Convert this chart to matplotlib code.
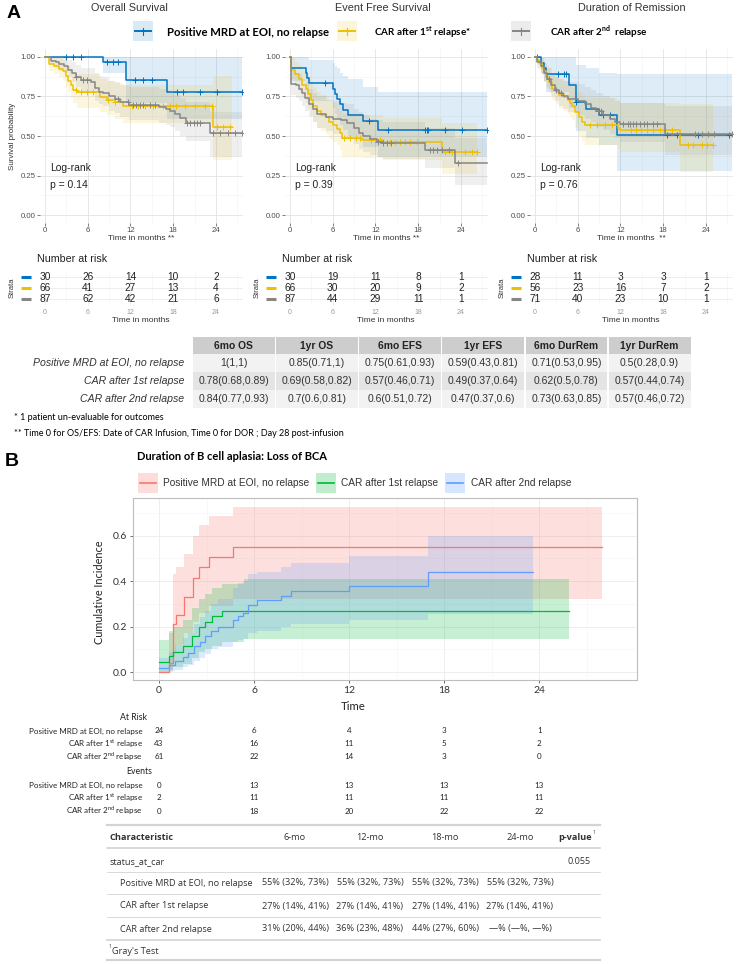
import numpy as np
import matplotlib
matplotlib.use("Agg")
import matplotlib.pyplot as plt
from matplotlib.lines import Line2D
from matplotlib.patches import Rectangle

plt.rcParams["font.family"] = ["Liberation Sans", "DejaVu Sans"]
plt.rcParams["mathtext.fontset"] = "custom"
plt.rcParams["mathtext.rm"] = "Lato"
plt.rcParams["mathtext.bf"] = "Lato:bold"

W, H = 738, 964

# ---------------- panel A : KM curves (time in months) ----------------
km_colors = ["#0073C2", "#EFC000", "#868686"]

# overall survival
os_blue_t = [0, 8.1, 11.4, 17.1]
os_blue_s = [1.0, 0.967, 0.857, 0.778]
os_blue_lo = [1.0, 0.90, 0.71, 0.61]
os_blue_hi = [1.0, 1.0, 1.0, 1.0]
os_blue_cens = [3.0, 3.9, 5.1, 8.7, 9.6, 10.3, 12.6, 13.8, 15.0, 18.5, 19.4, 21.8, 24.1, 27.7]
os_blue_end = 27.7

os_yel_t = [0, 0.6, 1.3, 1.9, 2.5, 2.9, 3.2, 3.6, 4.0, 4.5, 7.7, 8.7, 9.8, 11.0, 23.6]
os_yel_s = [1.0, 0.955, 0.94, 0.925, 0.91, 0.88, 0.85, 0.82, 0.79, 0.776, 0.745, 0.727, 0.712, 0.692, 0.554]
os_yel_lo = [1.0, 0.91, 0.89, 0.87, 0.85, 0.81, 0.78, 0.74, 0.71, 0.68, 0.65, 0.63, 0.61, 0.58, 0.35]
os_yel_hi = [1.0, 1.0, 1.0, 0.99, 0.98, 0.96, 0.94, 0.92, 0.90, 0.89, 0.86, 0.85, 0.835, 0.82, 0.88]
os_yel_cens = [4.4, 5.1, 5.9, 6.8, 8.8, 9.8, 12.2, 13.1, 14.1, 15.2, 16.5, 17.5, 18.4, 19.7, 21.0, 22.5, 23.4, 24.1, 25.0, 26.0]
os_yel_end = 26.3

os_gry_t = [0, 0.9, 1.5, 2.0, 2.6, 3.2, 3.8, 4.4, 5.0, 6.4, 7.0, 7.6, 8.2, 9.0, 9.8, 10.6, 11.8, 16.0, 17.0, 17.6, 18.3, 19.0, 19.8, 23.2]
os_gry_s = [1.0, 0.977, 0.966, 0.954, 0.943, 0.92, 0.897, 0.874, 0.851, 0.84, 0.805, 0.78, 0.77, 0.75, 0.735, 0.715, 0.696, 0.683, 0.672, 0.66, 0.636, 0.612, 0.58, 0.518]
os_gry_lo = [1.0, 0.946, 0.93, 0.91, 0.90, 0.87, 0.84, 0.81, 0.78, 0.77, 0.72, 0.70, 0.69, 0.66, 0.645, 0.62, 0.60, 0.58, 0.57, 0.555, 0.53, 0.50, 0.47, 0.37]
os_gry_hi = [1.0, 1.0, 1.0, 1.0, 0.99, 0.98, 0.97, 0.95, 0.93, 0.93, 0.90, 0.88, 0.87, 0.85, 0.84, 0.82, 0.81, 0.80, 0.79, 0.78, 0.76, 0.74, 0.715, 0.65]
os_gry_cens = [4.4, 5.3, 5.9, 10.3, 11.6, 12.3, 12.8, 13.3, 13.8, 14.7, 15.5, 20.0, 20.4, 20.9, 21.4, 21.8, 23.6, 24.6, 25.7, 26.7, 27.7]
os_gry_end = 27.7

# event free survival
efs_blue_t = [0, 0.2, 2.2, 2.4, 2.6, 6.0, 6.3, 6.6, 7.0, 7.5, 8.1, 10.3, 12.4]
efs_blue_s = [1.0, 0.933, 0.9, 0.867, 0.833, 0.80, 0.767, 0.733, 0.70, 0.667, 0.635, 0.595, 0.54]
efs_blue_lo = [1.0, 0.85, 0.80, 0.76, 0.72, 0.68, 0.64, 0.61, 0.57, 0.54, 0.50, 0.43, 0.37]
efs_blue_hi = [1.0, 1.0, 1.0, 1.0, 0.98, 0.96, 0.94, 0.93, 0.90, 0.88, 0.86, 0.81, 0.78]
efs_blue_cens = [4.9, 11.1, 13.8, 19.0, 19.2, 19.4, 21.8, 24.1, 27.7]
efs_blue_end = 27.7

efs_yel_t = [0, 0.1, 0.7, 1.2, 1.7, 2.2, 2.5, 2.9, 3.3, 3.8, 4.3, 5.0, 5.5, 6.0, 6.6, 7.0, 7.3, 10.1, 13.1, 21.3]
efs_yel_s = [1.0, 0.92, 0.89, 0.86, 0.82, 0.80, 0.765, 0.73, 0.69, 0.655, 0.635, 0.62, 0.59, 0.57, 0.545, 0.52, 0.49, 0.476, 0.461, 0.397]
efs_yel_lo = [1.0, 0.86, 0.82, 0.78, 0.74, 0.71, 0.67, 0.63, 0.59, 0.55, 0.53, 0.51, 0.48, 0.46, 0.44, 0.41, 0.37, 0.36, 0.35, 0.26]
efs_yel_hi = [1.0, 0.99, 0.97, 0.95, 0.92, 0.91, 0.88, 0.85, 0.81, 0.78, 0.76, 0.75, 0.72, 0.71, 0.68, 0.66, 0.64, 0.63, 0.615, 0.585]
efs_yel_cens = [7.6, 8.4, 9.3, 9.8, 11.4, 12.0, 12.6, 14.1, 14.8, 15.5, 16.2, 16.9, 17.9, 21.8, 22.8, 24.6, 25.5, 26.3]
efs_yel_end = 26.3

efs_gry_t = [0, 0.1, 0.8, 1.2, 1.7, 2.1, 2.6, 3.2, 3.8, 5.0, 6.0, 7.2, 8.0, 9.0, 9.7, 10.3, 11.2, 12.2, 13.0, 19.0, 23.1]
efs_gry_s = [1.0, 0.83, 0.82, 0.80, 0.77, 0.74, 0.70, 0.67, 0.64, 0.62, 0.61, 0.60, 0.58, 0.55, 0.52, 0.50, 0.48, 0.465, 0.455, 0.412, 0.332]
efs_gry_lo = [1.0, 0.76, 0.74, 0.72, 0.69, 0.66, 0.62, 0.59, 0.55, 0.53, 0.51, 0.50, 0.48, 0.45, 0.42, 0.40, 0.38, 0.37, 0.355, 0.30, 0.19]
efs_gry_hi = [1.0, 0.91, 0.90, 0.89, 0.86, 0.84, 0.80, 0.77, 0.75, 0.73, 0.72, 0.71, 0.70, 0.67, 0.65, 0.63, 0.61, 0.60, 0.59, 0.55, 0.49]
efs_gry_cens = [12.3, 13.1, 13.6, 14.2, 19.6, 20.1, 20.6, 21.3, 22.3, 23.6]
efs_gry_end = 27.7

# duration of remission
dor_blue_t = [0, 0.9, 1.2, 1.5, 4.8, 5.75, 7.2, 9.0, 11.5]
dor_blue_s = [1.0, 0.964, 0.929, 0.893, 0.82, 0.714, 0.67, 0.63, 0.505]
dor_blue_lo = [1.0, 0.90, 0.84, 0.78, 0.68, 0.53, 0.49, 0.44, 0.28]
dor_blue_hi = [1.0, 1.0, 1.0, 1.0, 1.0, 0.95, 0.93, 0.90, 0.89]
dor_blue_cens = [0.3, 3.3, 4.1, 4.4, 5.75, 9.6, 10.6, 18.5, 19.9, 22.9, 27.3]
dor_blue_end = 27.6

dor_yel_t = [0, 0.3, 0.6, 1.0, 1.3, 1.5, 1.9, 2.4, 3.0, 3.4, 4.1, 4.6, 4.9, 5.2, 5.6, 6.2, 6.6, 7.0, 11.6, 12.0, 20.3]
dor_yel_s = [1.0, 0.98, 0.96, 0.93, 0.91, 0.875, 0.84, 0.80, 0.78, 0.76, 0.745, 0.73, 0.71, 0.69, 0.65, 0.62, 0.59, 0.57, 0.553, 0.535, 0.445]
dor_yel_lo = [1.0, 0.95, 0.92, 0.88, 0.85, 0.81, 0.77, 0.73, 0.70, 0.68, 0.66, 0.64, 0.62, 0.60, 0.55, 0.50, 0.47, 0.44, 0.42, 0.40, 0.27]
dor_yel_hi = [1.0, 1.0, 1.0, 0.99, 0.98, 0.95, 0.93, 0.90, 0.88, 0.86, 0.85, 0.84, 0.83, 0.81, 0.78, 0.78, 0.76, 0.74, 0.73, 0.71, 0.70]
dor_yel_cens = [7.7, 8.7, 9.8, 10.8, 13.5, 14.2, 14.9, 15.7, 16.5, 17.5, 18.2, 19.2, 21.5, 22.2, 23.4, 24.1, 25.0]
dor_yel_end = 25.0

dor_gry_t = [0, 0.3, 0.8, 1.2, 1.7, 2.2, 2.8, 3.4, 4.0, 4.7, 6.0, 7.0, 7.8, 8.6, 9.5, 10.5, 11.3, 12.0, 18.2]
dor_gry_s = [1.0, 0.97, 0.94, 0.90, 0.86, 0.82, 0.79, 0.77, 0.75, 0.735, 0.72, 0.70, 0.68, 0.655, 0.63, 0.61, 0.59, 0.575, 0.514]
dor_gry_lo = [1.0, 0.93, 0.89, 0.85, 0.80, 0.75, 0.72, 0.69, 0.67, 0.65, 0.63, 0.61, 0.59, 0.56, 0.54, 0.51, 0.49, 0.465, 0.38]
dor_gry_hi = [1.0, 1.0, 0.99, 0.96, 0.93, 0.89, 0.87, 0.86, 0.85, 0.84, 0.83, 0.81, 0.79, 0.77, 0.75, 0.74, 0.72, 0.71, 0.69]
dor_gry_cens = [2.0, 3.0, 3.6, 8.8, 9.3, 12.4, 13.0, 13.4, 13.8, 14.2, 14.7, 15.3, 15.7, 16.6, 17.1, 22.4, 23.4, 24.3, 25.2, 27.6]
dor_gry_end = 27.6

risk_times = [0, 6, 12, 18, 24]
os_risk = [[30, 26, 14, 10, 2], [66, 41, 27, 13, 4], [87, 62, 42, 21, 6]]
efs_risk = [[30, 19, 11, 8, 1], [66, 30, 20, 9, 2], [87, 44, 29, 11, 1]]
dor_risk = [[28, 11, 3, 3, 1], [56, 23, 16, 7, 2], [71, 40, 23, 10, 1]]

panel_titles = ["Overall Survival", "Event Free Survival", "Duration of Remission"]
pvalues = ["p = 0.14", "p = 0.39", "p = 0.76"]

tab_cols = ["6mo OS", "1yr OS", "6mo EFS", "1yr EFS", "6mo DurRem", "1yr DurRem"]
tab_rows = ["Positive MRD at EOI, no relapse", "CAR after 1st relapse", "CAR after 2nd relapse"]
tab_vals = [
    ["1(1,1)", "0.85(0.71,1)", "0.75(0.61,0.93)", "0.59(0.43,0.81)", "0.71(0.53,0.95)", "0.5(0.28,0.9)"],
    ["0.78(0.68,0.89)", "0.69(0.58,0.82)", "0.57(0.46,0.71)", "0.49(0.37,0.64)", "0.62(0.5,0.78)", "0.57(0.44,0.74)"],
    ["0.84(0.77,0.93)", "0.7(0.6,0.81)", "0.6(0.51,0.72)", "0.47(0.37,0.6)", "0.73(0.63,0.85)", "0.57(0.46,0.72)"],
]

# ---------------- panel B : cumulative incidence of loss of BCA ----------------
ci_colors = ["#F8766D", "#00BA38", "#619CFF"]
ci_labels = ["Positive MRD at EOI, no relapse", "CAR after 1st relapse", "CAR after 2nd relapse"]

red_t = [0, 0.65, 0.9, 1.1, 1.6, 2.15, 2.5, 3.15, 4.67]
red_v = [0, 0.04, 0.21, 0.25, 0.33, 0.415, 0.46, 0.505, 0.548]
red_lo = [0, 0.0, 0.09, 0.12, 0.17, 0.22, 0.26, 0.29, 0.32]
red_hi = [0, 0.17, 0.43, 0.46, 0.52, 0.60, 0.645, 0.685, 0.725]
red_end = 27.95

green_t = [0, 0.6, 0.9, 1.5, 2.1, 2.5, 2.9, 3.35, 4.0, 5.35]
green_v = [0.045, 0.07, 0.09, 0.115, 0.16, 0.2, 0.22, 0.245, 0.267, 0.267]
green_lo = [0.0, 0.01, 0.02, 0.035, 0.06, 0.09, 0.1, 0.115, 0.13, 0.145]
green_hi = [0.14, 0.18, 0.2, 0.23, 0.28, 0.32, 0.345, 0.37, 0.385, 0.41]
green_end = 25.9

blue_t = [0, 0.6, 1.0, 1.5, 1.8, 2.2, 2.6, 2.9, 3.3, 3.7, 4.7, 5.0, 5.3, 5.6, 6.2, 7.7, 8.3, 12.0, 17.0]
blue_v = [0.016, 0.033, 0.05, 0.066, 0.082, 0.115, 0.13, 0.16, 0.18, 0.2, 0.23, 0.245, 0.26, 0.295, 0.315, 0.335, 0.355, 0.38, 0.44]
blue_lo = [0.0, 0.005, 0.01, 0.02, 0.03, 0.05, 0.06, 0.08, 0.1, 0.11, 0.13, 0.14, 0.145, 0.17, 0.18, 0.2, 0.21, 0.23, 0.255]
blue_hi = [0.06, 0.09, 0.12, 0.15, 0.17, 0.21, 0.24, 0.27, 0.3, 0.32, 0.37, 0.39, 0.4, 0.43, 0.44, 0.46, 0.48, 0.51, 0.6]
blue_end = 23.6

bca_times = [0, 6, 12, 18, 24]
bca_at_risk = [[24, 6, 4, 3, 1], [43, 16, 11, 5, 2], [61, 22, 14, 3, 0]]
bca_events = [[0, 13, 13, 13, 13], [2, 11, 11, 11, 11], [0, 18, 20, 22, 22]]
bca_risk_labels = ["Positive MRD at EOI, no relapse",
                   r"CAR after 1$^{\mathrm{st}}$ relapse",
                   r"CAR after 2$^{\mathrm{nd}}$ relapse"]

gt_cols = ["6-mo", "12-mo", "18-mo", "24-mo"]
gt_rows = ["Positive MRD at EOI, no relapse", "CAR after 1st relapse", "CAR after 2nd relapse"]
gt_vals = [
    ["55% (32%, 73%)", "55% (32%, 73%)", "55% (32%, 73%)", "55% (32%, 73%)"],
    ["27% (14%, 41%)", "27% (14%, 41%)", "27% (14%, 41%)", "27% (14%, 41%)"],
    ["31% (20%, 44%)", "36% (23%, 48%)", "44% (27%, 60%)", "\u2014% (\u2014%, \u2014%)"],
]
gt_pvalue = "0.055"

fig = plt.figure(figsize=(W / 100, H / 100), dpi=100)


def px_axes(l, t, r, b):
    return fig.add_axes([l / W, 1 - b / H, (r - l) / W, (b - t) / H])


def ftext(x, y, s, **kw):
    kw.setdefault("va", "center")
    return fig.text(x / W, 1 - y / H, s, **kw)


def fline(x0, x1, y0, y1, **kw):
    fig.add_artist(Line2D([x0 / W, x1 / W], [1 - y0 / H, 1 - y1 / H], transform=fig.transFigure, **kw))


def frect(l, t, r, b, **kw):
    fig.add_artist(Rectangle((l / W, 1 - b / H), (r - l) / W, (b - t) / H,
                             transform=fig.transFigure, lw=0, **kw))


def km_curve(ax, t, s, lo, hi, end, cens, color):
    tt = t + [end]
    ax.fill_between(tt, lo + [lo[-1]], hi + [hi[-1]], step="post", color=color, alpha=0.13, lw=0)
    ax.step(tt, s + [s[-1]], where="post", color=color, lw=1.1)
    idx = np.searchsorted(t, cens, side="right") - 1
    ax.plot(cens, np.array(s)[idx], ls="none", marker="+", ms=4.5, mew=0.7, color=color)


km_panels = [
    [(os_blue_t, os_blue_s, os_blue_lo, os_blue_hi, os_blue_end, os_blue_cens),
     (os_yel_t, os_yel_s, os_yel_lo, os_yel_hi, os_yel_end, os_yel_cens),
     (os_gry_t, os_gry_s, os_gry_lo, os_gry_hi, os_gry_end, os_gry_cens)],
    [(efs_blue_t, efs_blue_s, efs_blue_lo, efs_blue_hi, efs_blue_end, efs_blue_cens),
     (efs_yel_t, efs_yel_s, efs_yel_lo, efs_yel_hi, efs_yel_end, efs_yel_cens),
     (efs_gry_t, efs_gry_s, efs_gry_lo, efs_gry_hi, efs_gry_end, efs_gry_cens)],
    [(dor_blue_t, dor_blue_s, dor_blue_lo, dor_blue_hi, dor_blue_end, dor_blue_cens),
     (dor_yel_t, dor_yel_s, dor_yel_lo, dor_yel_hi, dor_yel_end, dor_yel_cens),
     (dor_gry_t, dor_gry_s, dor_gry_lo, dor_gry_hi, dor_gry_end, dor_gry_cens)],
]
risk_tables = [os_risk, efs_risk, dor_risk]
x_zero = [45, 290, 535]  # pixel of t=0 for each panel
title_x = [129, 383, 632]
xlab = ["Time in months **", "Time in months **", "Time in months  **"]

ftext(7, 14, "A", fontsize=14, fontweight="bold")

for k in range(3):
    x0 = x_zero[k]
    ax = px_axes(x0 - 5, 49, x0 + 198, 223)
    for g in range(3):
        t, s, lo, hi, end, cens = km_panels[k][g]
        km_curve(ax, t, s, lo, hi, end, cens, km_colors[g])
    ax.set_xlim(-0.7, 27.8)
    ax.set_ylim(-0.05, 1.05)
    ax.set_xticks(risk_times)
    ax.set_xticks([3, 9, 15, 21, 27], minor=True)
    ax.set_yticks([0, 0.25, 0.5, 0.75, 1.0])
    ax.set_yticklabels(["0.00", "0.25", "0.50", "0.75", "1.00"])
    ax.set_yticks([0.125, 0.375, 0.625, 0.875], minor=True)
    ax.grid(which="major", color="#e3e3e3", lw=0.6)
    ax.grid(which="minor", color="#f1f1f1", lw=0.4)
    ax.set_axisbelow(True)
    ax.tick_params(which="major", labelsize=5.6, colors="#4d4d4d", length=2, width=0.5, pad=1)
    ax.tick_params(which="minor", length=0)
    for sp in ax.spines.values():
        sp.set_visible(False)
    ftext(title_x[k], 8, panel_titles[k], fontsize=7.8, color="#333333", ha="center")
    ftext(x0 - 5 + 101, 239, xlab[k], fontsize=6, color="#333333", ha="center")
    ftext(x0 + 5, 168, "Log-rank", fontsize=7.5, color="#222222")
    ftext(x0 + 5, 185, pvalues[k], fontsize=7.5, color="#222222")

    # number at risk table
    rax = px_axes(x0 - 5, 271.5, x0 + 198, 304.5)
    for g in range(3):
        for j, n in enumerate(risk_tables[k][g]):
            rax.text(risk_times[j], g + 1, str(n), ha="center", va="center", fontsize=7.3, color="#222222")
    rax.set_xlim(-0.7, 27.8)
    rax.set_ylim(3.5, 0.5)
    rax.set_xticks(risk_times)
    rax.set_xticks([3, 9, 15, 21, 27], minor=True)
    rax.set_yticks([1, 2, 3])
    rax.set_yticklabels([])
    rax.grid(which="major", color="#e8e8e8", lw=0.5)
    rax.grid(which="minor", axis="x", color="#f3f3f3", lw=0.4)
    rax.set_axisbelow(True)
    rax.tick_params(which="major", labelsize=5, colors="#9a9a9a", length=0, pad=3)
    rax.tick_params(which="minor", length=0)
    for sp in rax.spines.values():
        sp.set_visible(False)
    ftext(x0 - 8, 259, "Number at risk", fontsize=7.7, color="#222222")
    ftext(x0 + 96, 321, "Time in months", fontsize=6, color="#333333", ha="center")
    ftext(x0 - 33, 288, "Strata", fontsize=5.5, color="#333333", rotation=90, ha="center")
    for g in range(3):
        yy = 277 + 11 * g
        fline(x0 - 24, x0 - 14, yy, yy, color=km_colors[g], lw=2.2, solid_capstyle="butt")

ftext(12, 136, "Survival probability", fontsize=5.8, color="#333333", rotation=90, ha="center")

# legend for panel A
leg_x = [133, 337, 511]
leg_text_x = [167, 374, 550]
leg_size = [8.2, 7.1, 7.1]
leg_text = ["Positive MRD at EOI, no relapse",
            r"CAR after 1$^{\mathbf{st}}$ relapse*",
            r"CAR after 2$^{\mathbf{nd}}$  relapse"]
for g in range(3):
    frect(leg_x[g], 21, leg_x[g] + 20, 41, color=km_colors[g], alpha=0.15)
    fline(leg_x[g] + 2, leg_x[g] + 18, 31, 31, color=km_colors[g], lw=1.4)
    fline(leg_x[g] + 10, leg_x[g] + 10, 27.5, 34.5, color=km_colors[g], lw=0.8)
    ftext(leg_text_x[g], 32, leg_text[g], fontsize=leg_size[g], fontweight="bold", family=["Lato", "DejaVu Sans"])

# summary table for panel A
col_l = 192
col_w = 83.2
row_edges = [337, 354, 372, 390, 408]
row_fill = ["#cdcdcd", "#f2f2f2", "#e4e4e4", "#f2f2f2"]
for r in range(4):
    for c in range(6):
        frect(col_l + c * col_w + 0.7, row_edges[r], col_l + (c + 1) * col_w - 0.7, row_edges[r + 1],
              color=row_fill[r])
for c, name in enumerate(tab_cols):
    ftext(col_l + (c + 0.5) * col_w, 346, name, fontsize=7.4, fontweight="bold", ha="center", color="#222222")
for r, name in enumerate(tab_rows):
    yy = (row_edges[r + 1] + row_edges[r + 2]) / 2
    ftext(184, yy, name, fontsize=7.6, style="italic", ha="right", color="#333333")
    for c, v in enumerate(tab_vals[r]):
        ftext(col_l + (c + 0.5) * col_w, yy, v, fontsize=7.5, ha="center", color="#333333")

ftext(14, 417, "* 1 patient un-evaluable for outcomes", fontsize=6.5, family=["Lato"])
ftext(14, 434, "** Time 0 for OS/EFS: Date of CAR Infusion, Time 0 for DOR ; Day 28 post-infusion",
      fontsize=6.5, family=["Lato"])

# ---------------- panel B ----------------
ftext(5, 461, "B", fontsize=14, fontweight="bold")
ftext(137, 457, "Duration of B cell aplasia: Loss of BCA", fontsize=8, fontweight="bold", family=["Lato"])

bx = px_axes(133, 498, 637, 680)
ci_series = [(red_t, red_v, red_lo, red_hi, red_end),
             (green_t, green_v, green_lo, green_hi, green_end),
             (blue_t, blue_v, blue_lo, blue_hi, blue_end)]
for g, (t, v, lo, hi, end) in enumerate(ci_series):
    tt = t + [end]
    bx.fill_between(tt, lo + [lo[-1]], hi + [hi[-1]], step="post", color=ci_colors[g], alpha=0.22, lw=0)
for g, (t, v, lo, hi, end) in enumerate(ci_series):
    tt = t + [end]
    bx.step(tt, v + [v[-1]], where="post", color=ci_colors[g], lw=0.9)
bx.set_xlim(-1.64, 30.16)
bx.set_ylim(-0.035, 0.765)
bx.set_xticks(bca_times)
bx.set_xticks([3, 9, 15, 21, 27], minor=True)
bx.set_yticks([0, 0.2, 0.4, 0.6])
bx.set_yticklabels(["0.0", "0.2", "0.4", "0.6"])
bx.set_yticks([0.1, 0.3, 0.5, 0.7], minor=True)
bx.grid(which="major", color="#ebebeb", lw=0.6)
bx.grid(which="minor", color="#f5f5f5", lw=0.4)
bx.set_axisbelow(True)
bx.tick_params(which="major", labelsize=7.5, colors="#333333", length=2, width=0.5, pad=2)
bx.tick_params(which="minor", length=0)
for lab in bx.get_xticklabels() + bx.get_yticklabels():
    lab.set_family("Lato")
for sp in bx.spines.values():
    sp.set_color("#bdbdbd")
    sp.set_linewidth(0.8)
ftext(100, 592, "Cumulative Incidence", fontsize=7.8, rotation=90, ha="center", family=["Lato"], color="#222222")
ftext(353, 706, "Time", fontsize=8.2, ha="center", family=["Lato"], color="#222222")

# panel B legend
bleg_x = [138, 316, 445]
bleg_tx = [163, 341, 471]
for g in range(3):
    frect(bleg_x[g], 473, bleg_x[g] + 20, 493, color=ci_colors[g], alpha=0.25)
    fline(bleg_x[g] + 2, bleg_x[g] + 18, 483, 483, color=ci_colors[g], lw=1.2)
    ftext(bleg_tx[g], 483, ci_labels[g], fontsize=7.3, color="#333333")

# risk table under panel B
tax = px_axes(133, 705, 637, 825)
tax.set_xlim(-1.64, 30.16)
tax.set_ylim(825, 705)
tax.axis("off")
risk_rows_y = [731, 744, 757]
event_rows_y = [785, 798, 811]
ftext(133, 718, "At Risk", fontsize=6.3, ha="center", family=["Lato"], color="#222222")
ftext(139, 771, "Events", fontsize=6.3, ha="center", family=["Lato"], color="#222222")
for g in range(3):
    ftext(143, risk_rows_y[g], bca_risk_labels[g], fontsize=5.8, ha="right", family=["Lato"], color="#222222")
    ftext(143, event_rows_y[g], bca_risk_labels[g], fontsize=5.8, ha="right", family=["Lato"], color="#222222")
    for j in range(5):
        tax.text(bca_times[j], risk_rows_y[g], str(bca_at_risk[g][j]), ha="center", va="center",
                 fontsize=5.8, family="Lato", color="#222222")
        tax.text(bca_times[j], event_rows_y[g], str(bca_events[g][j]), ha="center", va="center",
                 fontsize=5.8, family="Lato", color="#222222")

# gtsummary style table
gt_line = "#d3d3d3"
fline(107, 600, 825, 825, color=gt_line, lw=1.6)
fline(107, 600, 848, 848, color=gt_line, lw=1.2)
for yy in [872, 894, 917]:
    fline(107, 600, yy, yy, color=gt_line, lw=0.6)
fline(107, 600, 940, 940, color=gt_line, lw=1.2)
fline(107, 600, 960, 960, color=gt_line, lw=1.6)
gt_font = dict(fontsize=6.6, family=["Open Sans", "DejaVu Sans"], color="#333333")
gt_cx = [295, 370, 445, 520]
ftext(110, 838, "Characteristic", fontweight="bold", **gt_font)
for c, name in enumerate(gt_cols):
    ftext(gt_cx[c], 838, name, ha="center", **gt_font)
ftext(592, 838, "p-value", fontweight="bold", ha="right", **gt_font)
ftext(593, 833, "1", fontsize=3.5, family=["Open Sans"], color="#333333")
ftext(110, 862, "status_at_car", **gt_font)
ftext(591, 862, gt_pvalue, ha="right", **gt_font)
gt_row_y = [883, 906, 929]
for r, name in enumerate(gt_rows):
    ftext(120, gt_row_y[r], name, **gt_font)
    for c, v in enumerate(gt_vals[r]):
        ftext(gt_cx[c], gt_row_y[r], v, ha="center", **gt_font)
ftext(109, 947, "1", fontsize=3.5, family=["Open Sans"], color="#333333")
ftext(112, 951, "Gray's Test", **gt_font)

fig.savefig("out.png", dpi=100)
